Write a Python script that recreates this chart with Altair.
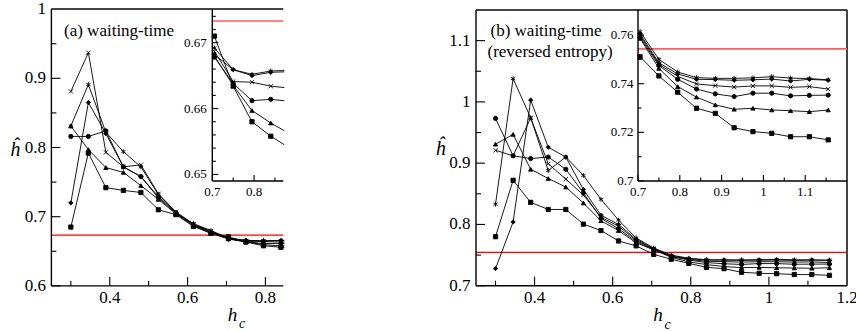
import altair as alt
import pandas as pd

W, H = 856, 331
SERIF = "Liberation Serif"

HC = [0.3, 0.345, 0.39, 0.435, 0.48, 0.525, 0.57, 0.615, 0.66, 0.705,
      0.75, 0.795, 0.84, 0.885, 0.93, 0.975, 1.02, 1.065, 1.11, 1.155]

# panel (a): waiting-time (first 14 h_c values visible)
A_X = [0.881, 0.937, 0.793, 0.772, 0.775, 0.733, 0.707, 0.689, 0.679, 0.6687, 0.6641, 0.6640, 0.6634, 0.6631]
A_STAR = [0.831, 0.891, 0.822, 0.794, 0.772, 0.732, 0.706, 0.690, 0.680, 0.6692, 0.6659, 0.6652, 0.6657, 0.6658]
A_DIAMOND = [0.720, 0.865, 0.820, 0.772, 0.758, 0.729, 0.706, 0.689, 0.678, 0.6682, 0.6659, 0.6650, 0.6655, 0.6656]
A_CIRCLE = [0.816, 0.816, 0.824, 0.772, 0.758, 0.727, 0.705, 0.688, 0.677, 0.6678, 0.6638, 0.6612, 0.6614, 0.6611]
A_TRIANGLE = [0.831, 0.797, 0.771, 0.764, 0.745, 0.725, 0.704, 0.687, 0.676, 0.6680, 0.6635, 0.6597, 0.6578, 0.6562]
A_SQUARE = [0.685, 0.792, 0.742, 0.738, 0.735, 0.710, 0.703, 0.686, 0.676, 0.6710, 0.6634, 0.6580, 0.6558, 0.6540]

# panel (b): waiting-time (reversed entropy)
B_X = [0.921, 0.912, 0.974, 0.899, 0.874, 0.848, 0.812, 0.797, 0.774, 0.7598, 0.7480, 0.7430, 0.7399, 0.7392, 0.7386, 0.7391, 0.7391, 0.7385, 0.7388, 0.7378]
B_STAR = [0.833, 1.038, 0.974, 0.888, 0.910, 0.880, 0.841, 0.807, 0.778, 0.7614, 0.7500, 0.7448, 0.7425, 0.7422, 0.7422, 0.7424, 0.7429, 0.7423, 0.7421, 0.7416]
B_DIAMOND = [0.728, 0.804, 1.003, 0.926, 0.910, 0.857, 0.815, 0.800, 0.776, 0.7605, 0.7486, 0.7440, 0.7418, 0.7417, 0.7414, 0.7416, 0.7419, 0.7411, 0.7418, 0.7414]
B_CIRCLE = [0.973, 0.912, 0.9075, 0.910, 0.890, 0.8515, 0.810, 0.793, 0.772, 0.7590, 0.7475, 0.7418, 0.7378, 0.7358, 0.7347, 0.7361, 0.7361, 0.7350, 0.7352, 0.7353]
B_TRIANGLE = [0.931, 0.947, 0.890, 0.875, 0.861, 0.835, 0.806, 0.790, 0.770, 0.7586, 0.7463, 0.7388, 0.7345, 0.7313, 0.7295, 0.7299, 0.7292, 0.7289, 0.7285, 0.7292]
B_SQUARE = [0.780, 0.872, 0.836, 0.8244, 0.8244, 0.8005, 0.790, 0.773, 0.765, 0.7511, 0.7432, 0.7365, 0.7299, 0.7278, 0.7219, 0.7203, 0.7196, 0.7182, 0.7182, 0.7169]

RED_A = 0.6733
RED_B = 0.7543

# tick labels
A_XLAB = [0.4, 0.6, 0.8]
A_YLAB = [0.6, 0.7, 0.8, 0.9, 1.0]
AI_XLAB = [0.7, 0.8]
AI_YLAB = [0.65, 0.66, 0.67]
B_XLAB = [0.4, 0.6, 0.8, 1.0, 1.2]
B_YLAB = [0.7, 0.8, 0.9, 1.0, 1.1]
BI_XLAB = [0.7, 0.8, 0.9, 1.0, 1.1]
BI_YLAB = [0.7, 0.72, 0.74, 0.76]

SHAPES = {
    "x": "M-1,-1L1,1M-1,1L1,-1",
    "star": "M0,-1.15L0,1.15M-1,-0.58L1,0.58M-1,0.58L1,-0.58",
    "diamond": "diamond",
    "circle": "circle",
    "triangle": "triangle-up",
    "square": "square",
}


def long_df(series, xmin):
    rows = []
    for name, vals in series.items():
        for hc, h in zip(HC, vals):
            if hc >= xmin:
                rows.append({"hc": hc, "h": h, "series": name, "shape": SHAPES[name]})
    return pd.DataFrame(rows)


A_SERIES = {"x": A_X, "star": A_STAR, "diamond": A_DIAMOND, "circle": A_CIRCLE,
            "triangle": A_TRIANGLE, "square": A_SQUARE}
B_SERIES = {"x": B_X, "star": B_STAR, "diamond": B_DIAMOND, "circle": B_CIRCLE,
            "triangle": B_TRIANGLE, "square": B_SQUARE}


def fmt(v):
    return f"{v:g}"


def panel(df, xd, xr, yd, yr, xmaj, xmin_t, ymaj, ymin_t, red, red_col, red_w,
          font, lmaj, lmin, frame, pad_x, pad_y):
    xs = alt.Scale(domain=xd, range=xr, zero=False, nice=False)
    ys = alt.Scale(domain=yd, range=yr, zero=False, nice=False)

    ppx = (xr[1] - xr[0]) / (xd[1] - xd[0])
    ppy = (yr[0] - yr[1]) / (yd[1] - yd[0])
    seg = []
    for v in xmaj:
        seg.append(dict(x0=v, x1=v, y0=yd[0], y1=yd[0] + lmaj / ppy, col="black", sw=1.1))
    for v in xmin_t:
        seg.append(dict(x0=v, x1=v, y0=yd[0], y1=yd[0] + lmin / ppy, col="black", sw=1.1))
    for v in ymaj:
        seg.append(dict(x0=xd[0], x1=xd[0] + lmaj / ppx, y0=v, y1=v, col="black", sw=1.1))
    for v in ymin_t:
        seg.append(dict(x0=xd[0], x1=xd[0] + lmin / ppx, y0=v, y1=v, col="black", sw=1.1))
    seg.append(dict(x0=xd[0], x1=xd[1], y0=red, y1=red, col=red_col, sw=red_w))
    if "top" in frame:
        seg.append(dict(x0=xd[0], x1=xd[1], y0=yd[1], y1=yd[1], col="#444444", sw=2))
    if "right" in frame:
        seg.append(dict(x0=xd[1], x1=xd[1], y0=yd[0], y1=yd[1], col="#444444", sw=2))
    # axis lines (left and bottom)
    seg.append(dict(x0=xd[0], x1=xd[1], y0=yd[0], y1=yd[0], col="black", sw=1.4))
    seg.append(dict(x0=xd[0], x1=xd[0], y0=yd[0], y1=yd[1], col="black", sw=1.4))
    segdf = pd.DataFrame(seg)

    X = lambda f: alt.X(f, scale=xs, axis=None)
    Y = lambda f: alt.Y(f, scale=ys, axis=None)

    rules = alt.Chart(segdf).mark_rule().encode(
        x=X("x0:Q"), x2="x1:Q", y=Y("y0:Q"), y2="y1:Q",
        color=alt.Color("col:N", scale=None),
        strokeWidth=alt.StrokeWidth("sw:Q", scale=None),
    )
    lines = alt.Chart(df).mark_line(color="black", strokeWidth=0.9).encode(
        x=X("hc:Q"), y=Y("h:Q"), detail="series:N",
    )
    points = alt.Chart(df).mark_point(filled=True, fill="black", stroke="black",
                                      strokeWidth=0.9, size=18, opacity=1).encode(
        x=X("hc:Q"), y=Y("h:Q"), shape=alt.Shape("shape:N", scale=None),
    )
    xl = pd.DataFrame({"v": xmaj, "b": [yd[0]] * len(xmaj), "t": [fmt(v) for v in xmaj]})
    yl = pd.DataFrame({"v": ymaj, "b": [xd[0]] * len(ymaj), "t": [fmt(v) for v in ymaj]})
    xlab = alt.Chart(xl).mark_text(font=SERIF, fontSize=font, color="black",
                                   align="center", baseline="top", dy=pad_x).encode(
        x=X("v:Q"), y=Y("b:Q"), text="t:N")
    ylab = alt.Chart(yl).mark_text(font=SERIF, fontSize=font, color="black",
                                   align="right", baseline="middle", dx=-pad_y).encode(
        x=X("b:Q"), y=Y("v:Q"), text="t:N")
    return alt.layer(rules, lines, points, xlab, ylab)


dfA = long_df(A_SERIES, 0.0)
dfAi = long_df(A_SERIES, 0.7)
dfB = long_df(B_SERIES, 0.0)
dfBi = long_df(B_SERIES, 0.7)

pA = panel(dfA, [0.25, 0.846], [51.4, 283.3], [0.6, 1.0], [285.9, 9.1],
           A_XLAB, [0.3, 0.5, 0.7], A_YLAB, [0.65, 0.75, 0.85, 0.95],
           RED_A, "#ff0000", 1.2, 17, 9, 5, ["top"], 4, 5.5)
pAi = panel(dfAi, [0.7, 0.87], [212.3, 283.3], [0.649, 0.6751], [181, 9.1],
            AI_XLAB, [0.75, 0.85], AI_YLAB,
            [0.652, 0.654, 0.656, 0.658, 0.662, 0.664, 0.666, 0.668, 0.672, 0.674],
            RED_A, "#ff5a5a", 1.6, 13, 6, 3.5, [], 5, 5.5)
pB = panel(dfB, [0.25, 1.2], [476, 847], [0.7, 1.15], [285.7, 10],
           B_XLAB, [0.3, 0.5, 0.7, 0.9, 1.1], B_YLAB, [0.75, 0.85, 0.95, 1.05],
           RED_B, "#ff0000", 1.2, 17, 9, 5, ["top", "right"], 4, 5.5)
pBi = panel(dfBi, [0.7, 1.2], [638, 847], [0.7, 0.7703], [181, 10],
            BI_XLAB, [0.75, 0.85, 0.95, 1.05, 1.15], BI_YLAB, [0.71, 0.73, 0.75],
            RED_B, "#ff5a5a", 1.6, 13, 6, 3.5, [], 5, 4.5)

# white mask: the left panel is cropped at its right edge
mask = alt.Chart(pd.DataFrame({"m": [1]})).mark_rect(color="white").encode(
    x=alt.value(284.3), x2=alt.value(425), y=alt.value(0), y2=alt.value(H))


def txt(t, x, y, size, italic=False, align="left"):
    return alt.Chart(pd.DataFrame({"t": [t]})).mark_text(
        font=SERIF, fontSize=size, fontStyle="italic" if italic else "normal",
        align=align, baseline="alphabetic", color="black").encode(
        text="t:N", x=alt.value(x), y=alt.value(y))


texts = [
    txt("(a) waiting-time", 64, 35.5, 17),
    txt("(b) waiting-time", 490.5, 36, 17),
    txt("(reversed entropy)", 487.5, 56.5, 17),
    txt("ĥ", 15, 156, 20, True, "center"),
    txt("ĥ", 440.5, 155, 20, True, "center"),
    txt("h", 232.5, 320.5, 19, True, "center"),
    txt("c", 242, 327.5, 14, True, "center"),
    txt("h", 658, 320.5, 19, True, "center"),
    txt("c", 667.5, 328.5, 14, True, "center"),
]

chart = alt.layer(pA, pAi, mask, pB, pBi, *texts).resolve_scale(
    x="independent", y="independent").properties(
    width=W, height=H, padding=0, background="white",
    autosize=alt.AutoSizeParams(type="none")).configure_view(strokeWidth=0)

chart.save("out.html", embed_options={"renderer": "svg", "actions": False})
